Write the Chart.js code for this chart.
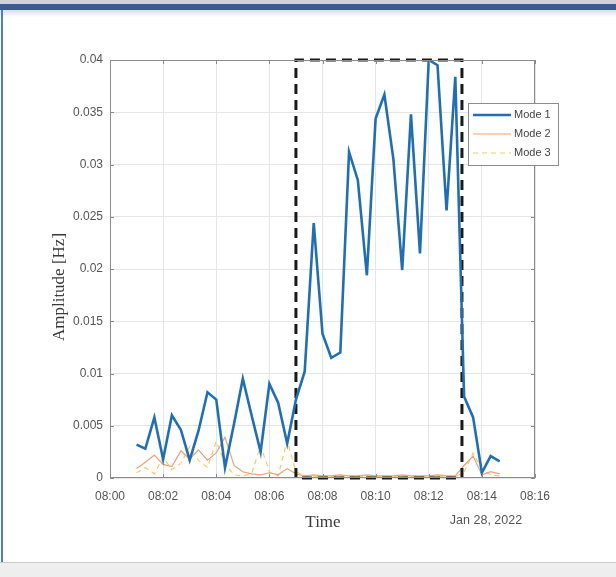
<!DOCTYPE html>
<html>
<head>
<meta charset="utf-8">
<script src="https://cdn.jsdelivr.net/npm/chart.js@4.4.1/dist/chart.umd.min.js"></script>
<style>
    html, body { margin: 0; padding: 0; background: #ffffff; }
    .page { position: relative; width: 616px; height: 577px; overflow: hidden; background: #ffffff; }
    .topband { position: absolute; left: 0; top: 0; width: 616px; height: 4px; background: #cfd3d8; }
    .topbar { position: absolute; left: 0; top: 4px; width: 616px; height: 6px; background: #3b5b8c; }
    .topshadow { position: absolute; left: 0; top: 10px; width: 616px; height: 7px; background: linear-gradient(#d9dde2, #ffffff); }
    .leftline { position: absolute; left: 1px; top: 10px; width: 2px; height: 552px; background: #4d7fc4; }
    .bottomband { position: absolute; left: 0; top: 562px; width: 616px; height: 15px; background: #eeeeee; border-top: 1px solid #cccccc; }
    canvas { position: absolute; left: 0; top: 0; }
</style>
</head>
<body>
<div class="page">
    <div class="topband"></div>
    <div class="topbar"></div>
    <div class="topshadow"></div>
    <div class="leftline"></div>
    <div class="bottomband"></div>
    <canvas id="chart" width="616" height="577"></canvas>
</div>
<script>
// minutes after 08:00, one sample every 20 s
const times = [1.00, 1.33, 1.67, 2.00, 2.33, 2.67, 3.00, 3.33, 3.67, 4.00, 4.33, 4.67,
    5.00, 5.33, 5.67, 6.00, 6.33, 6.67, 7.00, 7.33, 7.67, 8.00, 8.33, 8.67,
    9.00, 9.33, 9.67, 10.00, 10.33, 10.67, 11.00, 11.33, 11.67, 12.00, 12.33, 12.67,
    13.00, 13.33, 13.67, 14.00, 14.33, 14.67];

const mode1 = [0.0032, 0.0028, 0.0058, 0.0018, 0.0060, 0.0046, 0.0017, 0.0045, 0.0082, 0.0075, 0.0010, 0.0052,
    0.0095, 0.0060, 0.0025, 0.0090, 0.0072, 0.0033, 0.0075, 0.0102, 0.0244, 0.0138, 0.0115, 0.0120,
    0.0312, 0.0285, 0.0194, 0.0344, 0.0367, 0.0305, 0.0199, 0.0348, 0.0215, 0.0400, 0.0395, 0.0256,
    0.0384, 0.0078, 0.0058, 0.0005, 0.0021, 0.0016];

const mode2 = [0.0009, 0.0015, 0.0022, 0.0013, 0.0011, 0.0026, 0.0018, 0.0027, 0.0017, 0.0024, 0.0039, 0.0012,
    0.0006, 0.0004, 0.0003, 0.0005, 0.0003, 0.0009, 0.0004, 0.0002, 0.0003, 0.0002, 0.0002, 0.0003,
    0.0002, 0.0002, 0.0003, 0.0002, 0.0002, 0.0002, 0.0003, 0.0002, 0.0002, 0.0002, 0.0003, 0.0002,
    0.0002, 0.0012, 0.0021, 0.0003, 0.0006, 0.0004];

const mode3 = [0.0005, 0.0010, 0.0004, 0.0020, 0.0008, 0.0014, 0.0030, 0.0017, 0.0010, 0.0035, 0.0014, 0.0003,
    0.0002, 0.0004, 0.0031, 0.0006, 0.0002, 0.0036, 0.0006, 0.0002, 0.0001, 0.0002, 0.0001, 0.0002,
    0.0001, 0.0002, 0.0001, 0.0002, 0.0001, 0.0001, 0.0002, 0.0001, 0.0002, 0.0001, 0.0001, 0.0002,
    0.0001, 0.0006, 0.0024, 0.0008, 0.0003, 0.0002];

// dashed highlight window
const boxX = [7.0, 7.0, 13.25, 13.25, 7.0];
const boxY = [0, 0.04, 0.04, 0, 0];

const xTicks = [0, 2, 4, 6, 8, 10, 12, 14, 16];
const yTicks = [0, 0.005, 0.01, 0.015, 0.02, 0.025, 0.03, 0.035, 0.04];

function pairs(xs, ys) {
    return xs.map(function (x, i) { return { x: x, y: ys[i] }; });
}

const legendItems = [
    { label: "Mode 1", color: "#1f6fb8", width: 2.5, dash: [] },
    { label: "Mode 2", color: "#f0a07a", width: 1.2, dash: [] },
    { label: "Mode 3", color: "#f2cc6a", width: 1.2, dash: [5, 4] }
];

// MATLAB-like extras: inward ticks, titles, legend box
const extras = {
    id: "extras",
    afterDraw: function (chart) {
        const ctx = chart.ctx;
        const a = chart.chartArea;
        const xs = chart.scales.x;
        const ys = chart.scales.y;
        ctx.save();

        ctx.strokeStyle = "#8c8c8c";
        ctx.lineWidth = 1;
        ctx.strokeRect(a.left + 0.5, a.top + 0.5, a.right - a.left - 1, a.bottom - a.top - 1);

        ctx.beginPath();
        xTicks.forEach(function (t) {
            const px = Math.round(xs.getPixelForValue(t)) + 0.5;
            ctx.moveTo(px, a.bottom); ctx.lineTo(px, a.bottom - 4);
            ctx.moveTo(px, a.top); ctx.lineTo(px, a.top + 4);
        });
        yTicks.forEach(function (t) {
            const py = Math.round(ys.getPixelForValue(t)) + 0.5;
            ctx.moveTo(a.left, py); ctx.lineTo(a.left + 4, py);
            ctx.moveTo(a.right, py); ctx.lineTo(a.right - 4, py);
        });
        ctx.stroke();

        ctx.fillStyle = "#3a3a3a";
        ctx.font = "17px 'Liberation Serif'";
        ctx.textAlign = "center";
        ctx.textBaseline = "middle";
        ctx.fillText("Time", 323, 523);
        ctx.save();
        ctx.translate(60, 287);
        ctx.rotate(-Math.PI / 2);
        ctx.fillText("Amplitude [Hz]", 0, 0);
        ctx.restore();

        ctx.fillStyle = "#555555";
        ctx.font = "12.5px 'Liberation Sans'";
        ctx.fillText("Jan 28, 2022", 486, 521);

        // legend
        ctx.fillStyle = "#ffffff";
        ctx.fillRect(468, 103, 90, 62);
        ctx.strokeStyle = "#8c8c8c";
        ctx.strokeRect(468.5, 103.5, 90, 62);
        ctx.font = "11px 'Liberation Sans'";
        ctx.textAlign = "left";
        legendItems.forEach(function (it, i) {
            const y = 115 + i * 19;
            ctx.strokeStyle = it.color;
            ctx.lineWidth = it.width;
            ctx.setLineDash(it.dash);
            ctx.beginPath();
            ctx.moveTo(473, y); ctx.lineTo(511, y);
            ctx.stroke();
            ctx.setLineDash([]);
            ctx.fillStyle = "#444444";
            ctx.fillText(it.label, 514, y);
        });
        ctx.restore();
    }
};

new Chart(document.getElementById("chart"), {
    type: "line",
    data: {
        datasets: [
            {
                label: "Mode 1",
                data: pairs(times, mode1),
                borderColor: "#1f6fb8",
                borderWidth: 2.6,
                pointRadius: 0,
                tension: 0
            },
            {
                label: "Box",
                data: pairs(boxX, boxY),
                borderColor: "#1a1a1a",
                borderWidth: 3,
                borderDash: [10, 6],
                pointRadius: 0,
                tension: 0,
                clip: false
            },
            {
                label: "Mode 2",
                data: pairs(times, mode2),
                borderColor: "#f0a07a",
                borderWidth: 1.2,
                pointRadius: 0,
                tension: 0
            },
            {
                label: "Mode 3",
                data: pairs(times, mode3),
                borderColor: "#f2cc6a",
                borderWidth: 1.2,
                borderDash: [5, 4],
                pointRadius: 0,
                tension: 0
            }
        ]
    },
    options: {
        responsive: false,
        animation: false,
        layout: { padding: { left: 40, right: 81, top: 60, bottom: 39 } },
        plugins: {
            legend: { display: false },
            tooltip: { enabled: false }
        },
        scales: {
            x: {
                type: "linear",
                min: 0,
                max: 16,
                afterBuildTicks: function (scale) {
                    scale.ticks = xTicks.map(function (v) { return { value: v }; });
                },
                afterFit: function (scale) { scale.height = 60; },
                border: { display: false },
                grid: { color: "#e6e6e6", drawTicks: false },
                ticks: {
                    padding: 11,
                    color: "#555555",
                    font: { family: "'Liberation Sans'", size: 12 },
                    callback: function (v) { return "08:" + String(v).padStart(2, "0"); }
                }
            },
            y: {
                min: 0,
                max: 0.04,
                afterBuildTicks: function (scale) {
                    scale.ticks = yTicks.map(function (v) { return { value: v }; });
                },
                afterFit: function (scale) { scale.width = 70; },
                border: { display: false },
                grid: { color: "#e6e6e6", drawTicks: false },
                ticks: {
                    padding: 7,
                    color: "#555555",
                    font: { family: "'Liberation Sans'", size: 12 },
                    callback: function (v) { return String(parseFloat(v.toFixed(3))); }
                }
            }
        }
    },
    plugins: [extras]
});
</script>
</body>
</html>
